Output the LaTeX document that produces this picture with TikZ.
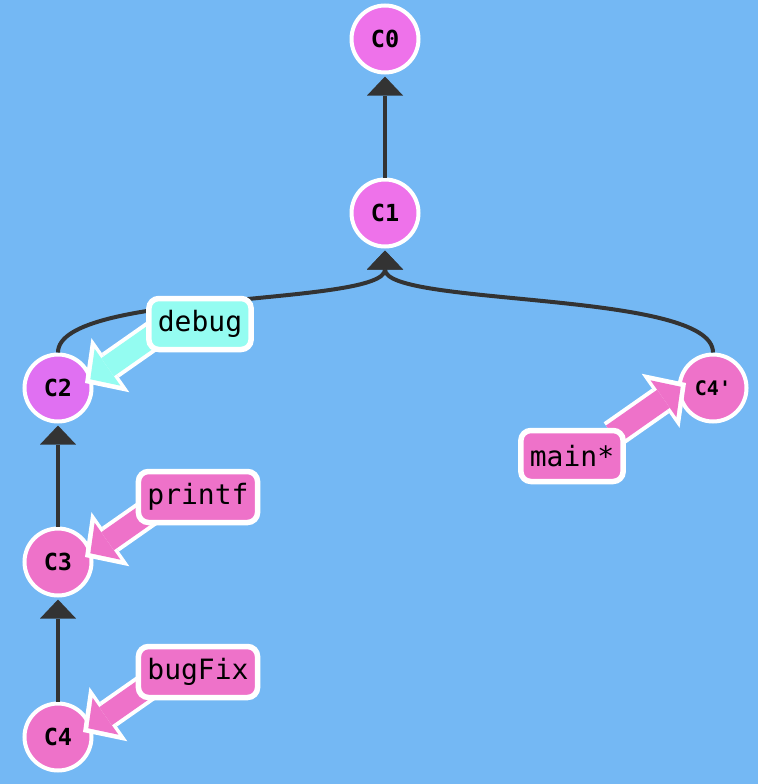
\documentclass[tikz,border=0pt]{standalone}
\usepackage{fontspec}
\usetikzlibrary{arrows.meta,calc}
\newfontfamily\gitmono{DejaVu Sans Mono}
\definecolor{bgblue}{HTML}{74B8F4}
\definecolor{edgegray}{HTML}{333333}
\definecolor{commitpink}{HTML}{EE72EA}
\definecolor{commitviolet}{HTML}{E070F2}
\definecolor{branchpink}{HTML}{EE72C9}
\definecolor{branchcyan}{HTML}{94FCF1}
\pgfdeclarelayer{top}
\pgfsetlayers{main,top}
\begin{document}
\begin{tikzpicture}[x=1pt,y=-1pt,
    commit/.style={circle,draw=white,line width=4pt,minimum size=67pt,inner sep=0pt,
      font=\gitmono\bfseries\fontsize{23.5pt}{26pt}\selectfont},
    branch/.style={rounded corners=10pt,draw=white,line width=5.5pt,minimum height=51pt,
      inner xsep=9pt,font=\gitmono\fontsize{28pt}{30pt}\selectfont},
    parent/.style={draw=edgegray,line width=4pt,shorten >=2pt,
      -{Triangle[length=19pt,width=36pt,line width=0pt]}},
    refout/.style={white,line width=30pt,-{Triangle[length=31pt,width=66pt,line width=0pt]}},
    refin/.style={line width=22pt,-{Triangle[length=21pt,width=45pt,line width=0pt]}}]
    \fill[bgblue] (0,0) rectangle (758,784);
    \useasboundingbox (0,0) rectangle (758,784);
    \node[commit,fill=commitpink] (C0) at (385,39) {C0};
    \node[commit,fill=commitpink] (C1) at (385,213) {C1};
    \node[commit,fill=commitviolet] (C2) at (58,388) {C2};
    \node[commit,fill=branchpink] (C3) at (58,562) {C3};
    \node[commit,fill=branchpink] (C4) at (58,737) {C4};
    \node[commit,fill=branchpink,font=\gitmono\bfseries\fontsize{20pt}{22pt}\selectfont] (C4p) at (713,388) {C4'};
    \draw[parent] (C1) -- (C0);
    \draw[parent] (C3) -- (C2);
    \draw[parent] (C4) -- (C3);
    \draw[parent] (C2.north) .. controls +(0,-62) and +(0,58) .. (C1.south);
    \draw[parent] (C4p.north) .. controls +(0,-62) and +(0,58) .. (C1.south);
    \begin{pgfonlayer}{top}
    \node[branch,fill=branchcyan] (debug) at (200,324) {debug};
    \node[branch,fill=branchpink] (printf) at (198,497) {printf};
    \node[branch,fill=branchpink] (bugFix) at (198,672) {bugFix};
    \node[branch,fill=branchpink] (main) at (572,456) {main*};
    \end{pgfonlayer}
    \foreach \b/\c/\dx/\ang/\col in {debug/C2/27/-35/branchcyan,printf/C3/27/-35/branchpink,
        bugFix/C4/25/-35/branchpink,main/C4p/-27/145/branchpink}{
      \coordinate (tip\b) at ($(\c)+(\dx,-5)$);
      \coordinate (tail\b) at ($(tip\b)+(\ang:90)$);
      \draw[refout] (tail\b) -- (tip\b);
      \draw[refin,\col] (tail\b) -- ($(tip\b)!6.5pt!(tail\b)$);
    }
\end{tikzpicture}
\end{document}
